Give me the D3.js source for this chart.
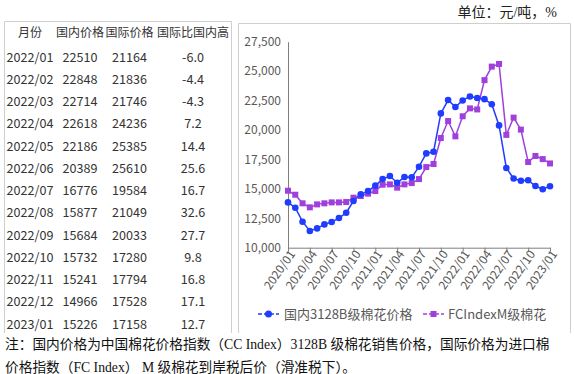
<!DOCTYPE html>
<html><head><meta charset="utf-8">
<script src="https://cdn.jsdelivr.net/npm/d3@7"></script>
<style>
html,body{margin:0;padding:0;background:#fff;}
svg{display:block;}
</style></head>
<body>
<svg id="c" width="574" height="374"></svg>
<script>
// ---- data ----
const months = ["2020/01","2020/02","2020/03","2020/04","2020/05","2020/06","2020/07","2020/08","2020/09","2020/10","2020/11","2020/12",
"2021/01","2021/02","2021/03","2021/04","2021/05","2021/06","2021/07","2021/08","2021/09","2021/10","2021/11","2021/12",
"2022/01","2022/02","2022/03","2022/04","2022/05","2022/06","2022/07","2022/08","2022/09","2022/10","2022/11","2022/12","2023/01"];
const domestic = [13850,13400,12210,11420,11640,11980,12180,12520,12970,13965,14530,14810,
15270,15830,16090,15520,16000,15975,16880,18010,18150,21410,22545,21950,
22510,22848,22714,22618,22186,20389,16776,15877,15684,15732,15241,14966,15226];
const international = [14840,14500,13770,13430,13680,13770,13850,13850,13880,14250,14390,14590,
14810,15350,15380,15100,15380,15490,15830,16850,17110,19320,20760,19460,
21164,21836,21746,24236,25385,25610,19584,21049,20033,17280,17794,17528,17158];
const seriesNames = ["国内3128B级棉花价格","FCIndexM级棉花"];
const yTicks = [10000,12500,15000,17500,20000,22500,25000,27500];
const xTickLabels = ["2020/01","2020/04","2020/07","2020/10","2021/01","2021/04","2021/07","2021/10","2022/01","2022/04","2022/07","2022/10","2023/01"];
const tableHeader = ["月份","国内价格","国际价格","国际比国内高"];
const tableMonths = ["2022/01","2022/02","2022/03","2022/04","2022/05","2022/06","2022/07","2022/08","2022/09","2022/10","2022/11","2022/12","2023/01"];
const tableDomestic = [22510,22848,22714,22618,22186,20389,16776,15877,15684,15732,15241,14966,15226];
const tableIntl = [21164,21836,21746,24236,25385,25610,19584,21049,20033,17280,17794,17528,17158];
const tableDiff = ["-6.0","-4.4","-4.3","7.2","14.4","25.6","16.7","32.6","27.7","9.8","16.8","17.1","12.7"];
const unitText = "单位：元/吨，%";
const note1 = "注：国内价格为中国棉花价格指数（CC Index）3128B 级棉花销售价格，国际价格为进口棉";
const note2 = "价格指数（FC Index） M 级棉花到岸税后价（滑准税下）。";

const svg = d3.select("#c");
const sans = "'Noto Sans CJK SC','Noto Sans',sans-serif";
const serif = "'Liberation Serif','Noto Sans CJK SC',serif";
const BLUE = "#1f3cff", PURPLE = "#a040dc";

// unit
svg.append("text").attr("x",557).attr("y",17).attr("text-anchor","end")
  .attr("font-family",serif).attr("font-size",14).attr("fill","#222").text(unitText);

// table box
const box = svg.append("g").attr("stroke","#cfcfcf").attr("stroke-width",1).attr("fill","none");
box.append("path").attr("d","M4.5,333V21.5H231.5V333");
box.append("path").attr("d","M238.5,333V23.5H570.5V333");

// table
const colX = [30,80,129.5,193];
const tg = svg.append("g").attr("font-family",sans).attr("fill","#333").attr("text-anchor","middle");
tableHeader.forEach((h,i)=>{
  tg.append("text").attr("x",colX[i]).attr("y",33).attr("dy","0.36em").attr("font-size",12).text(h);
});
const rowY = d3.scaleLinear().domain([0,12]).range([57,324]);
tableMonths.forEach((m,i)=>{
  const cells=[m,tableDomestic[i],tableIntl[i],tableDiff[i]];
  cells.forEach((c,j)=>{
    tg.append("text").attr("x",colX[j]).attr("y",rowY(i)).attr("dy","0.36em").attr("font-size",12.6).text(c);
  });
});

// chart
const x = d3.scalePoint().domain(months).range([288,550]);
const y = d3.scaleLinear().domain([10000,27500]).range([247.7,41.7]);

const yAxis = svg.append("g").attr("transform","translate(288,0)")
  .call(d3.axisLeft(y).tickValues(yTicks).tickSize(0).tickPadding(7).tickFormat(d3.format(",")));
yAxis.select(".domain").attr("stroke","#7f7f7f");
yAxis.selectAll("text").attr("font-family",sans).attr("font-size",12).attr("fill","#595959");

const xAxis = svg.append("g").attr("transform","translate(0,247.7)")
  .call(d3.axisBottom(x).tickValues(xTickLabels).tickSize(4).tickSizeOuter(0));
xAxis.select(".domain").attr("stroke","#7f7f7f");
xAxis.selectAll("line").attr("stroke","#7f7f7f");
xAxis.selectAll("text").attr("font-family",sans).attr("font-size",12).attr("fill","#595959")
  .attr("text-anchor","end").attr("dy",0)
  .attr("transform","translate(4,4) rotate(-55)").attr("x",0).attr("y",4);

const line = d3.line().x((d,i)=>x(months[i])).y(d=>y(d));
svg.append("path").datum(international).attr("d",line).attr("fill","none").attr("stroke",PURPLE).attr("stroke-width",1.5);
svg.append("path").datum(domestic).attr("d",line).attr("fill","none").attr("stroke",BLUE).attr("stroke-width",1.5);
svg.append("g").selectAll("rect").data(international).join("rect")
  .attr("x",(d,i)=>x(months[i])-3).attr("y",d=>y(d)-3).attr("width",6).attr("height",6).attr("fill",PURPLE);
svg.append("g").selectAll("circle").data(domestic).join("circle")
  .attr("cx",(d,i)=>x(months[i])).attr("cy",d=>y(d)).attr("r",3.3).attr("fill",BLUE);

// legend
const lg = svg.append("g").attr("font-family",sans).attr("font-size",13).attr("fill","#595959");
const legX = [258,423];
[BLUE,PURPLE].forEach((c,i)=>{
  const g = lg.append("g").attr("transform",`translate(${legX[i]},314)`);
  g.append("line").attr("x1",0).attr("x2",21).attr("stroke",c).attr("stroke-width",1.5).attr("stroke-dasharray","4,2");
  if(i===0) g.append("circle").attr("cx",10.5).attr("r",3.5).attr("fill",c);
  else g.append("rect").attr("x",7.5).attr("y",-3).attr("width",6).attr("height",6).attr("fill",c);
  g.append("text").attr("x",i===0?26:25).attr("dy","0.36em").text(seriesNames[i]);
});

// notes
const ng = svg.append("g").attr("font-family",serif).attr("font-size",13.7).attr("fill","#111");
ng.append("text").attr("x",5).attr("y",349).text(note1);
ng.append("text").attr("x",5).attr("y",372).text(note2);
</script>
</body></html>
